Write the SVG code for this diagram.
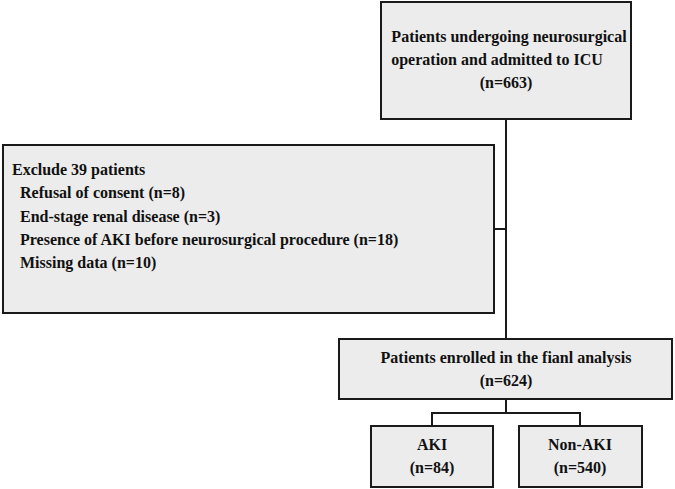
<svg xmlns="http://www.w3.org/2000/svg" width="675" height="489" viewBox="0 0 675 489">
<style>
.box{fill:#ececec;stroke:#1a1a1a;stroke-width:2}
.t{font-family:"Liberation Serif","Times New Roman",serif;font-weight:bold;font-size:16px;fill:#111}
.c{text-anchor:middle}
.ln{stroke:#1a1a1a;stroke-width:2;fill:none}
</style>
<rect width="675" height="489" fill="#fff"/>
<g id="connectors">
<path class="ln" d="M506 119 V339"/>
<path class="ln" d="M494 229 H506"/>
<path class="ln" d="M506 399 V413 M432 413 H580 M432 412 V426 M580 412 V426"/>
</g>
<g id="start">
<rect class="box" x="381" y="2" width="250" height="117"/>
<text class="t c" x="509" y="42">Patients undergoing neurosurgical</text>
<text class="t c" x="497" y="65">operation and admitted to ICU</text>
<text class="t c" x="506" y="88">(n=663)</text>
</g>
<g id="exclude">
<rect class="box" x="3" y="145" width="491" height="168"/>
<text class="t" x="12" y="175">Exclude 39 patients</text>
<text class="t" x="20" y="198">Refusal of consent (n=8)</text>
<text class="t" x="20" y="222">End-stage renal disease (n=3)</text>
<text class="t" x="20" y="245">Presence of AKI before neurosurgical procedure (n=18)</text>
<text class="t" x="20" y="268">Missing data (n=10)</text>
</g>
<g id="enrolled">
<rect class="box" x="339" y="339" width="333" height="60"/>
<text class="t c" x="506" y="363">Patients enrolled in the fianl analysis</text>
<text class="t c" x="506" y="386">(n=624)</text>
</g>
<g id="aki">
<rect class="box" x="371" y="426" width="122" height="61"/>
<text class="t c" x="432" y="450">AKI</text>
<text class="t c" x="432" y="473">(n=84)</text>
</g>
<g id="nonaki">
<rect class="box" x="519" y="426" width="123" height="61"/>
<text class="t c" x="580" y="450">Non-AKI</text>
<text class="t c" x="580" y="473">(n=540)</text>
</g>
</svg>
